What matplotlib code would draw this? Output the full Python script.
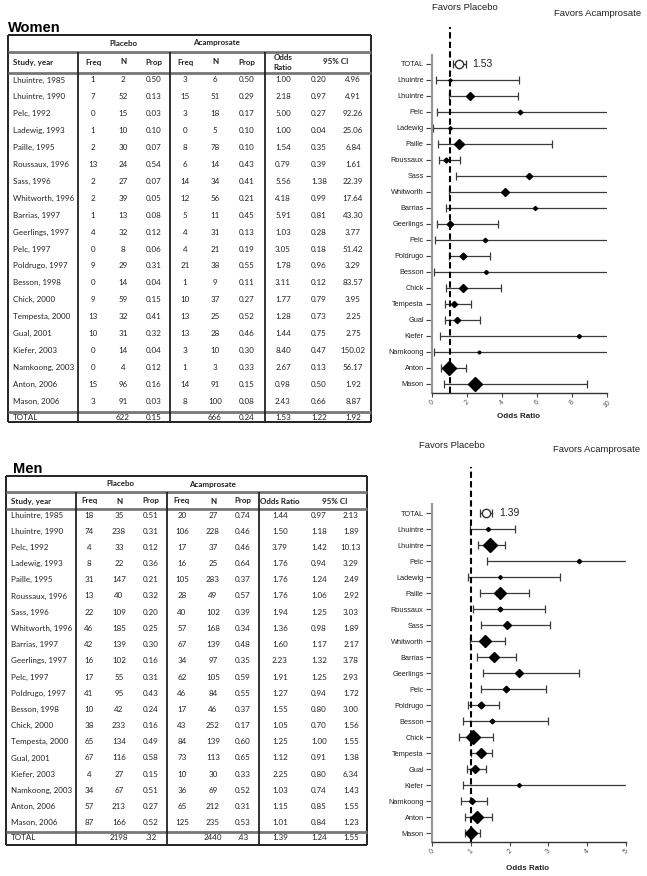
import matplotlib.pyplot as plt
import numpy as np

studies = ["Lhuintre, 1985", "Lhuintre, 1990", "Pelc, 1992", "Ladewig, 1993", "Paille, 1995",
           "Roussaux, 1996", "Sass, 1996", "Whitworth, 1996", "Barrias, 1997", "Geerlings, 1997",
           "Pelc, 1997", "Poldrugo, 1997", "Besson, 1998", "Chick, 2000", "Tempesta, 2000",
           "Gual, 2001", "Kiefer, 2003", "Namkoong, 2003", "Anton, 2006", "Mason, 2006"]

# women
plac_freq_w = [1, 7, 0, 1, 2, 13, 2, 2, 1, 4, 0, 9, 0, 9, 13, 10, 0, 0, 15, 3]
plac_n_w = [2, 52, 15, 10, 30, 24, 27, 39, 13, 32, 8, 29, 14, 59, 32, 31, 14, 4, 96, 91]
plac_prop_w = [0.50, 0.13, 0.03, 0.10, 0.07, 0.54, 0.07, 0.05, 0.08, 0.12, 0.06, 0.31, 0.04, 0.15,
               0.41, 0.32, 0.04, 0.12, 0.16, 0.03]
acam_freq_w = [3, 15, 3, 0, 8, 6, 14, 12, 5, 4, 4, 21, 1, 10, 13, 13, 3, 1, 14, 8]
acam_n_w = [6, 51, 18, 5, 78, 14, 34, 56, 11, 31, 21, 38, 9, 37, 25, 28, 10, 3, 91, 100]
acam_prop_w = [0.50, 0.29, 0.17, 0.10, 0.10, 0.43, 0.41, 0.21, 0.45, 0.13, 0.19, 0.55, 0.11, 0.27,
               0.52, 0.46, 0.30, 0.33, 0.15, 0.08]
or_w = [1.00, 2.18, 5.00, 1.00, 1.54, 0.79, 5.56, 4.18, 5.91, 1.03, 3.05, 1.78, 3.11, 1.77, 1.28,
        1.44, 8.40, 2.67, 0.98, 2.43]
lo_w = [0.20, 0.97, 0.27, 0.04, 0.35, 0.39, 1.38, 0.99, 0.81, 0.28, 0.18, 0.96, 0.12, 0.79, 0.73,
        0.75, 0.47, 0.13, 0.50, 0.66]
hi_w = [4.96, 4.91, 92.26, 25.06, 6.84, 1.61, 22.39, 17.64, 43.30, 3.77, 51.42, 3.29, 83.57, 3.95,
        2.25, 2.75, 150.02, 56.17, 1.92, 8.87]
total_w = ["622", "0.15", "666", "0.24", 1.53, 1.22, 1.92]

# men
plac_freq_m = [18, 74, 4, 8, 31, 13, 22, 46, 42, 16, 17, 41, 10, 38, 65, 67, 4, 34, 57, 87]
plac_n_m = [35, 238, 33, 22, 147, 40, 109, 185, 139, 102, 55, 95, 42, 233, 134, 116, 27, 67, 213, 166]
plac_prop_m = [0.51, 0.31, 0.12, 0.36, 0.21, 0.32, 0.20, 0.25, 0.30, 0.16, 0.31, 0.43, 0.24, 0.16,
               0.49, 0.58, 0.15, 0.51, 0.27, 0.52]
acam_freq_m = [20, 106, 17, 16, 105, 28, 40, 57, 67, 34, 62, 46, 17, 43, 84, 73, 10, 36, 65, 125]
acam_n_m = [27, 228, 37, 25, 283, 49, 102, 168, 139, 97, 105, 84, 46, 252, 139, 113, 30, 69, 212, 235]
acam_prop_m = [0.74, 0.46, 0.46, 0.64, 0.37, 0.57, 0.39, 0.34, 0.48, 0.35, 0.59, 0.55, 0.37, 0.17,
               0.60, 0.65, 0.33, 0.52, 0.31, 0.53]
or_m = [1.44, 1.50, 3.79, 1.76, 1.76, 1.76, 1.94, 1.36, 1.60, 2.23, 1.91, 1.27, 1.55, 1.05, 1.25,
        1.12, 2.25, 1.03, 1.15, 1.01]
lo_m = [0.97, 1.18, 1.42, 0.94, 1.24, 1.06, 1.25, 0.98, 1.17, 1.32, 1.25, 0.94, 0.80, 0.70, 1.00,
        0.91, 0.80, 0.74, 0.85, 0.84]
hi_m = [2.13, 1.89, 10.13, 3.29, 2.49, 2.92, 3.03, 1.89, 2.17, 3.78, 2.93, 1.72, 3.00, 1.56, 1.55,
        1.38, 6.34, 1.43, 1.55, 1.23]
total_m = ["2198", ".32", "2440", ".43", 1.39, 1.24, 1.55]

W, H = 647, 876
TFONT = "Lato"
FFONT = "Liberation Sans"

fig = plt.figure(figsize=(W / 100, H / 100), dpi=100)
bg = fig.add_axes([0, 0, 1, 1])
bg.set_xlim(0, W)
bg.set_ylim(H, 0)
bg.axis("off")


def hline(x0, x1, y, lw=1.2, c="#222222"):
    bg.plot([x0, x1], [y, y], color=c, lw=lw, solid_capstyle="butt")


def vline(x, y0, y1, lw=1.2, c="#222222"):
    bg.plot([x, x], [y0, y1], color=c, lw=lw, solid_capstyle="butt")


def draw_table(title, tx, ty, box, h1, h2, tline, vx, hy1, hy2, row0, step, toty, cols, rows, total,
               one_line_or):
    x0, y0, x1, y1 = box
    bg.text(tx, ty, title, fontsize=10.5, fontweight="bold", family=FFONT, va="center")
    hline(x0, x1, y0, 1.4)
    hline(x0, x1, y1, 1.4)
    vline(x0, y0, y1, 1.4)
    vline(x1, y0, y1, 1.4)
    hline(x0, x1, h1, 2.0, "#777777")
    hline(x0, x1, h2, 2.0, "#777777")
    hline(x0, x1, tline, 2.0, "#777777")
    for v in vx:
        vline(v, h1, y1, 1.3)
    kw = dict(fontsize=5.8, family=TFONT, color="#222222", va="center")
    hk = dict(kw, fontweight="bold", ha="center")
    bg.text((cols[0] + cols[2]) / 2, hy1, "Placebo", **hk)
    bg.text((cols[3] + cols[5]) / 2, hy1, "Acamprosate", **hk)
    bg.text(x0 + 5, hy2, "Study, year", **dict(kw, fontweight="bold"))
    for c, s in zip(cols[:6], ["Freq", "N", "Prop", "Freq", "N", "Prop"]):
        bg.text(c, hy2, s, **hk)
    if one_line_or:
        bg.text(cols[6], hy2, "Odds Ratio", **hk)
    else:
        bg.text(cols[6], hy2, "Odds\nRatio", linespacing=1.5, **hk)
    bg.text((cols[7] + cols[8]) / 2, hy2, "95% CI", **hk)
    for i, row in enumerate(rows):
        y = row0 + i * step
        bg.text(x0 + 5, y, row[0], **kw)
        for c, v in zip(cols, row[1:]):
            bg.text(c, y, v, ha="center", **kw)
    bg.text(x0 + 5, toty, "TOTAL", **kw)
    tcols = [cols[1], cols[2], cols[4], cols[5], cols[6], cols[7], cols[8]]
    for c, v in zip(tcols, total):
        s = v if isinstance(v, str) else f"{v:.2f}"
        bg.text(c, toty, s, ha="center", **kw)


def table_rows(pf, pn, pp, af, an, ap, orr, lo, hi):
    rows = []
    for i in range(len(studies)):
        rows.append([studies[i], str(pf[i]), str(pn[i]), f"{pp[i]:.2f}", str(af[i]), str(an[i]),
                     f"{ap[i]:.2f}", f"{orr[i]:.2f}", f"{lo[i]:.2f}", f"{hi[i]:.2f}"])
    return rows


def draw_forest(rect, orr, lo, hi, n, total, xmax, ytop):
    ax = fig.add_axes(rect)
    orr, lo, hi, n = map(np.asarray, (orr, lo, hi, n))
    y = np.arange(1, len(orr) + 1)
    # marker size grows with study size
    sizes = 1.4 + 5.8 * n / n.max()
    ax.errorbar(orr, y, xerr=[orr - lo, hi - orr], fmt="none", ecolor="#3a3a3a", elinewidth=0.9,
                capsize=2.6, capthick=0.9)
    for xi, yi, s in zip(orr, y, sizes):
        ax.plot(xi, yi, marker="D", ms=s, color="black", ls="none", zorder=3)
    t, tlo, thi = total[4], total[5], total[6]
    ax.errorbar([t], [0], xerr=[[t - tlo], [thi - t]], fmt="o", mfc="white", mec="#333333",
                ms=6, ecolor="#333333", elinewidth=0.9, capsize=3, capthick=0.9)
    ax.annotate(f"{t:.2f}", (thi, 0), xytext=(5, 0), textcoords="offset points", va="center",
                fontsize=7.5, family=FFONT, color="#222222")
    ax.axvline(1, color="black", ls=(0, (3, 1.6)), lw=1.5, zorder=4)
    ax.set_xlim(0, xmax)
    ax.set_ylim(20.5625, ytop)
    ax.set_yticks(range(0, 21))
    ax.set_yticklabels(["TOTAL"] + [s.split(",")[0] for s in studies], fontsize=5.3,
                       family=FFONT, color="#222222")
    ax.set_xticks(np.arange(0, xmax + 0.01, 2 if xmax > 5 else 1))
    ax.set_xticklabels([str(int(v)) for v in ax.get_xticks()], rotation=45, fontsize=5,
                       family=FFONT, color="#555555")
    ax.tick_params(axis="y", length=4, width=0.8, color="#444444", pad=2)
    ax.tick_params(axis="x", length=3, width=0.8, color="#444444", pad=1)
    ax.spines["top"].set_visible(False)
    ax.spines["right"].set_visible(False)
    ax.spines["left"].set_bounds(20.5625, -0.5625)
    ax.spines["left"].set_color("#999999")
    ax.spines["left"].set_linewidth(1.6)
    ax.spines["bottom"].set_color("#333333")
    ax.spines["bottom"].set_linewidth(1.0)
    ax.patch.set_alpha(0)
    return ax


# women table
draw_table("Women", 8, 28, (8, 35, 371, 422), 52, 73, 412, [78, 170, 265], 43, 62, 80, 16.9, 417,
           [93, 123, 154, 185, 215, 247, 283, 319, 353],
           table_rows(plac_freq_w, plac_n_w, plac_prop_w, acam_freq_w, acam_n_w, acam_prop_w,
                      or_w, lo_w, hi_w), total_w, False)

# men table
draw_table("Men", 13, 469, (6, 476, 367, 845), 492, 509, 832, [76, 167, 259], 484, 501, 515, 16.2,
           838, [89, 119, 151, 182, 213, 243, 280, 319, 351],
           table_rows(plac_freq_m, plac_n_m, plac_prop_m, acam_freq_m, acam_n_m, acam_prop_m,
                      or_m, lo_m, hi_m), total_m, True)

# forest plots
n_w = np.array(plac_n_w) + np.array(acam_n_w)
n_m = np.array(plac_n_m) + np.array(acam_n_m)
draw_forest([432 / W, 1 - 393 / H, (607 - 432) / W, (393 - 27) / H], or_w, lo_w, hi_w, n_w,
            total_w, 10, -2.3125)
draw_forest([432 / W, 1 - 842 / H, (626 - 432) / W, (842 - 467) / H], or_m, lo_m, hi_m, n_m,
            total_m, 5, -2.875)

fk = dict(fontsize=6.8, family=FFONT, color="#222222", ha="center", va="center")
bg.text(465, 8, "Favors Placebo", **fk)
bg.text(598, 13, "Favors Acamprosate", **fk)
bg.text(452, 446, "Favors Placebo", **fk)
bg.text(597, 449, "Favors Acamprosate", **fk)
bg.text(519, 416, "Odds Ratio", fontsize=5.8, fontweight="bold", family=FFONT, ha="center",
        va="center", color="#222222")
bg.text(528, 868, "Odds Ratio", fontsize=5.8, fontweight="bold", family=FFONT, ha="center",
        va="center", color="#222222")

fig.savefig("out.png", dpi=100)
